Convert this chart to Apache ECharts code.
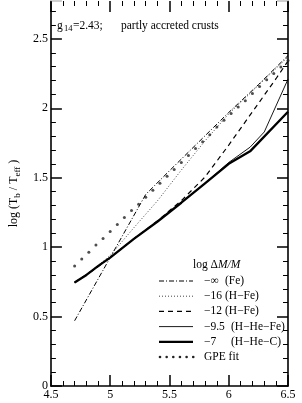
<!DOCTYPE html>
<html><head><meta charset="utf-8">
<script src="https://cdn.jsdelivr.net/npm/echarts@6/dist/echarts.min.js"></script>
<style>html,body{margin:0;padding:0;background:#fff}#c{width:302px;height:403px}</style>
</head><body><div id="c"></div>
<script>
const FONT = '"Liberation Serif","Times New Roman",serif';

// tick labels
const xTickLabels = ['4.5', '5', '5.5', '6', '6.5'];
const yTickLabels = ['0', '0.5', '1', '1.5', '2', '2.5'];

// log dM/M = -inf (Fe)
const feX = [4.7, 5.0, 5.3, 5.5, 5.75, 6.0, 6.25, 6.5];
const feY = [0.47, 0.925, 1.38, 1.55, 1.76, 1.97, 2.17, 2.38];
// -16 (H-Fe)
const h16X = [4.7, 4.85, 5.0, 5.2, 5.4, 5.6, 5.8, 6.0, 6.25, 6.5];
const h16Y = [0.745, 0.835, 0.94, 1.14, 1.335, 1.555, 1.765, 1.96, 2.165, 2.37];
// -12 (H-Fe)
const h12X = [4.7, 4.85, 5.0, 5.2, 5.4, 5.6, 5.8, 6.0, 6.2, 6.4, 6.5];
const h12Y = [0.745, 0.83, 0.925, 1.06, 1.19, 1.335, 1.505, 1.735, 1.975, 2.215, 2.34];
// -9.5 (H-He-Fe)
const h95X = [4.7, 4.8, 4.9, 5.0, 5.2, 5.4, 5.6, 5.8, 6.0, 6.18, 6.3, 6.5];
const h95Y = [0.745, 0.80, 0.865, 0.925, 1.06, 1.185, 1.32, 1.46, 1.61, 1.72, 1.83, 2.21];
// -7 (H-He-C)
const h7X = [4.7, 4.8, 4.9, 5.0, 5.2, 5.4, 5.6, 5.8, 6.0, 6.18, 6.5];
const h7Y = [0.745, 0.80, 0.865, 0.925, 1.06, 1.185, 1.32, 1.46, 1.60, 1.69, 1.975];
// GPE fit
const gpeX = [4.70, 4.76, 4.82, 4.88, 4.94, 5.00, 5.06, 5.12, 5.18, 5.24, 5.30, 5.36, 5.42, 5.48, 5.54, 5.60,
              5.66, 5.72, 5.78, 5.84, 5.90, 5.96, 6.02, 6.08, 6.14, 6.20, 6.26, 6.32, 6.38, 6.44, 6.50];
const gpeY = [0.865, 0.914, 0.964, 1.015, 1.063, 1.113, 1.163, 1.214, 1.264, 1.309, 1.36, 1.41, 1.46, 1.51, 1.56, 1.61,
              1.66, 1.71, 1.76, 1.81, 1.865, 1.914, 1.962, 2.009, 2.055, 2.106, 2.158, 2.206, 2.25, 2.297, 2.345];

const legendNames = ['\u2212\u221e', '\u221216', '\u221212', '\u22129.5', '\u22127', 'GPE fit'];
const legendNotes = ['(Fe)', '(H\u2212Fe)', '(H\u2212Fe)', '(H\u2212He\u2212Fe)', '(H\u2212He\u2212C)', ''];

const zip = (xs, ys) => xs.map((x, i) => [x, ys[i]]);
const fmt = (list) => (v) => { const s = String(Math.round(v * 10) / 10); return list.includes(s) ? s : ''; };

function axisParts(lineColor) {
  return {
    axisLine: { show: true, onZero: false, lineStyle: { color: lineColor, width: 1.6 } },
    axisTick: { show: true, inside: true, length: 11, lineStyle: { color: '#000', width: 1.5 } },
    minorTick: { show: true, splitNumber: 5, length: 5, lineStyle: { color: '#000', width: 1 } },
    splitLine: { show: false },
    minorSplitLine: { show: false }
  };
}

const styles = [
  { type: [5, 2, 1, 2], width: 1, color: '#000' },
  { type: [1, 2], width: 1, color: '#444' },
  { type: [5, 4], width: 1.2, color: '#000' },
  { type: 'solid', width: 0.9, color: '#000' },
  { type: 'solid', width: 2.3, color: '#000' }
];

const lineData = [zip(feX, feY), zip(h16X, h16Y), zip(h12X, h12Y), zip(h95X, h95Y), zip(h7X, h7Y)];

const series = lineData.map((d, i) => ({
  type: 'line', name: legendNames[i], data: d, showSymbol: false, symbol: 'none',
  lineStyle: styles[i], z: 2 + i, silent: true
}));
series.push({
  type: 'scatter', name: 'GPE fit', data: zip(gpeX, gpeY), symbol: 'circle', symbolSize: 3,
  itemStyle: { color: '#222' }, silent: true, z: 10
});

// legend (drawn as graphics)
const lgX1 = 159, lgX2 = 193, lgTop = 281, lgStep = 15.2;
const LF = '11.5px ' + FONT;
const graphics = [];
styles.forEach((s, i) => {
  const y = lgTop + i * lgStep;
  graphics.push({ type: 'line', shape: { x1: lgX1, y1: y, x2: lgX2, y2: y },
    style: { stroke: s.color, lineWidth: s.width, lineDash: Array.isArray(s.type) ? s.type : null } });
});
for (let k = 0; k < 6; k++) {
  graphics.push({ type: 'circle', shape: { cx: 160 + k * 6.65, cy: lgTop + 5 * lgStep, r: 1.3 }, style: { fill: '#222' } });
}
legendNames.forEach((n, i) => {
  const y = lgTop + i * lgStep;
  graphics.push({ type: 'text', x: 204, y: y, style: { text: n, font: LF, fill: '#000', verticalAlign: 'middle' } });
  if (legendNotes[i]) {
    graphics.push({ type: 'text', x: i < 3 ? 225 : 231, y: y, style: { text: legendNotes[i], font: LF, fill: '#000', verticalAlign: 'middle' } });
  }
});
graphics.push({ type: 'text', x: 193, y: 265, style: {
  text: '{n|log \u0394}{i|M/M}', verticalAlign: 'middle',
  rich: { n: { fontFamily: FONT, fontSize: 11.5, fill: '#000' }, i: { fontFamily: FONT, fontSize: 11.5, fontStyle: 'italic', fill: '#000' } }
} });
// annotation
graphics.push({ type: 'text', x: 57, y: 26, style: { text: 'g', font: '11.5px ' + FONT, fill: '#000', verticalAlign: 'middle' } });
graphics.push({ type: 'text', x: 64, y: 29, style: { text: '14', font: '8.5px ' + FONT, fill: '#000', verticalAlign: 'middle' } });
graphics.push({ type: 'text', x: 73, y: 26, style: { text: '=2.43;', font: '11.5px ' + FONT, fill: '#000', verticalAlign: 'middle' } });
graphics.push({ type: 'text', x: 121, y: 26, style: { text: 'partly accreted crusts', font: '11.5px ' + FONT, fill: '#000', verticalAlign: 'middle' } });

const chart = echarts.init(document.getElementById('c'), null, { renderer: 'canvas' });
chart.setOption({
  animation: false,
  backgroundColor: '#fff',
  grid: { left: 32, right: 14, top: 1, bottom: 17 },
  xAxis: [
    Object.assign({ type: 'value', min: 4.5, max: 6.5, interval: 0.5, position: 'bottom',
      axisLabel: { show: true, margin: 3, color: '#000', fontFamily: FONT, fontSize: 12, formatter: fmt(xTickLabels) } }, axisParts('#000')),
    Object.assign({ type: 'value', min: 4.5, max: 6.5, interval: 0.5, position: 'top', z: 10,
      axisLabel: { show: false } }, axisParts('#ffffff'))
  ],
  yAxis: [
    Object.assign({ type: 'value', min: 0, max: 2.773, interval: 0.5, position: 'left',
      name: '{a|log (T}{b|b}{a| / T}{b|eff}{a| )}', nameLocation: 'middle', nameGap: 21, nameRotate: 90,
      nameTextStyle: { rich: {
        a: { fontFamily: FONT, fontSize: 12, color: '#000', lineHeight: 16, verticalAlign: 'middle' },
        b: { fontFamily: FONT, fontSize: 9, color: '#000', lineHeight: 16, verticalAlign: 'bottom' } } },
      axisLabel: { show: true, margin: 3, color: '#000', fontFamily: FONT, fontSize: 12, formatter: fmt(yTickLabels) } }, axisParts('#000')),
    Object.assign({ type: 'value', min: 0, max: 2.773, interval: 0.5, position: 'right',
      axisLabel: { show: false } }, axisParts('#000'))
  ],
  series: series,
  graphic: graphics
});
</script></body></html>
